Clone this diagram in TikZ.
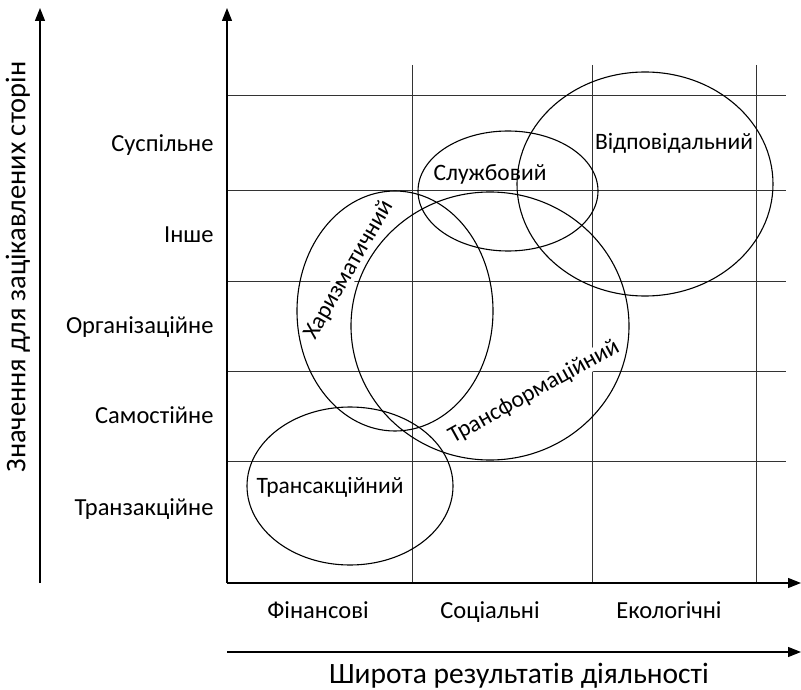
\documentclass[tikz,border=0pt]{standalone}
\usepackage{fontspec}
\setmainfont{Carlito}
\usetikzlibrary{arrows.meta,shapes.geometric}
\begin{document}
\begin{tikzpicture}[x=1pt,y=-1pt,
  gridline/.style={line width=0.9pt,draw=black!80},
  axisline/.style={line width=1.3pt,-{Triangle[length=13pt,width=10pt]}},
  oval/.style={draw,ellipse,line width=1.1pt,inner sep=0pt},
  rowlab/.style={anchor=base east,font=\fontsize{24.5}{26}\selectfont},
  collab/.style={anchor=base,font=\fontsize{24.5}{26}\selectfont},
  inlab/.style={font=\fontsize{23.5}{25}\selectfont,fill=white,inner sep=0.5pt},
  biglab/.style={font=\fontsize{29.5}{31}\selectfont}]
\useasboundingbox (0,0) rectangle (801,690);
% coordinates
\coordinate (o) at (227,583);
\coordinate (ytop) at (227,8);
\coordinate (xend) at (801,583);
\coordinate (lb) at (40,583);
\coordinate (lt) at (40,8);
\coordinate (bb) at (227,652);
\coordinate (be) at (801,652);
% horizontal grid lines
\foreach \y/\n in {95/a,190/b,281/c,371/d,461/e}{
  \coordinate (h\n1) at (227,\y);
  \coordinate (h\n2) at (786,\y);
  \draw[gridline] (h\n1) -- (h\n2);
}
% vertical grid lines
\foreach \x/\n in {412/a,592/b,756/c}{
  \coordinate (v\n1) at (\x,65);
  \coordinate (v\n2) at (\x,583);
  \draw[gridline] (v\n1) -- (v\n2);
}
% axes
\draw[axisline] (o) -- (ytop);
\draw[axisline] (o) -- (xend);
\draw[axisline] (lb) -- (lt);
\draw[axisline] (bb) -- (be);
% row labels
\node[rowlab] (r1) at (217,152) {Суспільне};
\node[rowlab] (r2) at (217,242) {Інше};
\node[rowlab] (r3) at (217,333) {Організаційне};
\node[rowlab] (r4) at (217,423) {Самостійне};
\node[rowlab] (r5) at (217,515) {Транзакційне};
% column labels
\node[collab] (c1) at (318,618) {Фінансові};
\node[collab] (c2) at (490,618) {Соціальні};
\node[collab] (c3) at (669,618) {Екологічні};
% axis titles
\node[biglab,anchor=base] (xt) at (519,683) {Широта результатів діяльності};
\node[biglab,rotate=90,font=\fontsize{28.5}{30}\selectfont] (yt) at (18,267) {Значення для зацікавлених сторін};
% inner labels
\node[inlab] (l1) at (330,487) {Трансакційний};
\node[inlab,rotate=60] (l2) at (349,270) {Харизматичний};
\node[inlab,rotate=29] (l3) at (534,392) {Трансформаційний};
\node[inlab] (l4) at (490,174) {Службовий};
\node[inlab] (l5) at (674,143) {Відповідальний};
% ovals
\node[oval,minimum width=206pt,minimum height=158pt] (e1) at (350,486) {};
\node[oval,minimum width=196pt,minimum height=240pt] (e2) at (395,311) {};
\node[oval,minimum width=278pt,minimum height=268pt] (e3) at (490,326) {};
\node[oval,minimum width=180pt,minimum height=120pt] (e4) at (508,191) {};
\node[oval,minimum width=256pt,minimum height=224pt] (e5) at (645,184) {};
\end{tikzpicture}
\end{document}
